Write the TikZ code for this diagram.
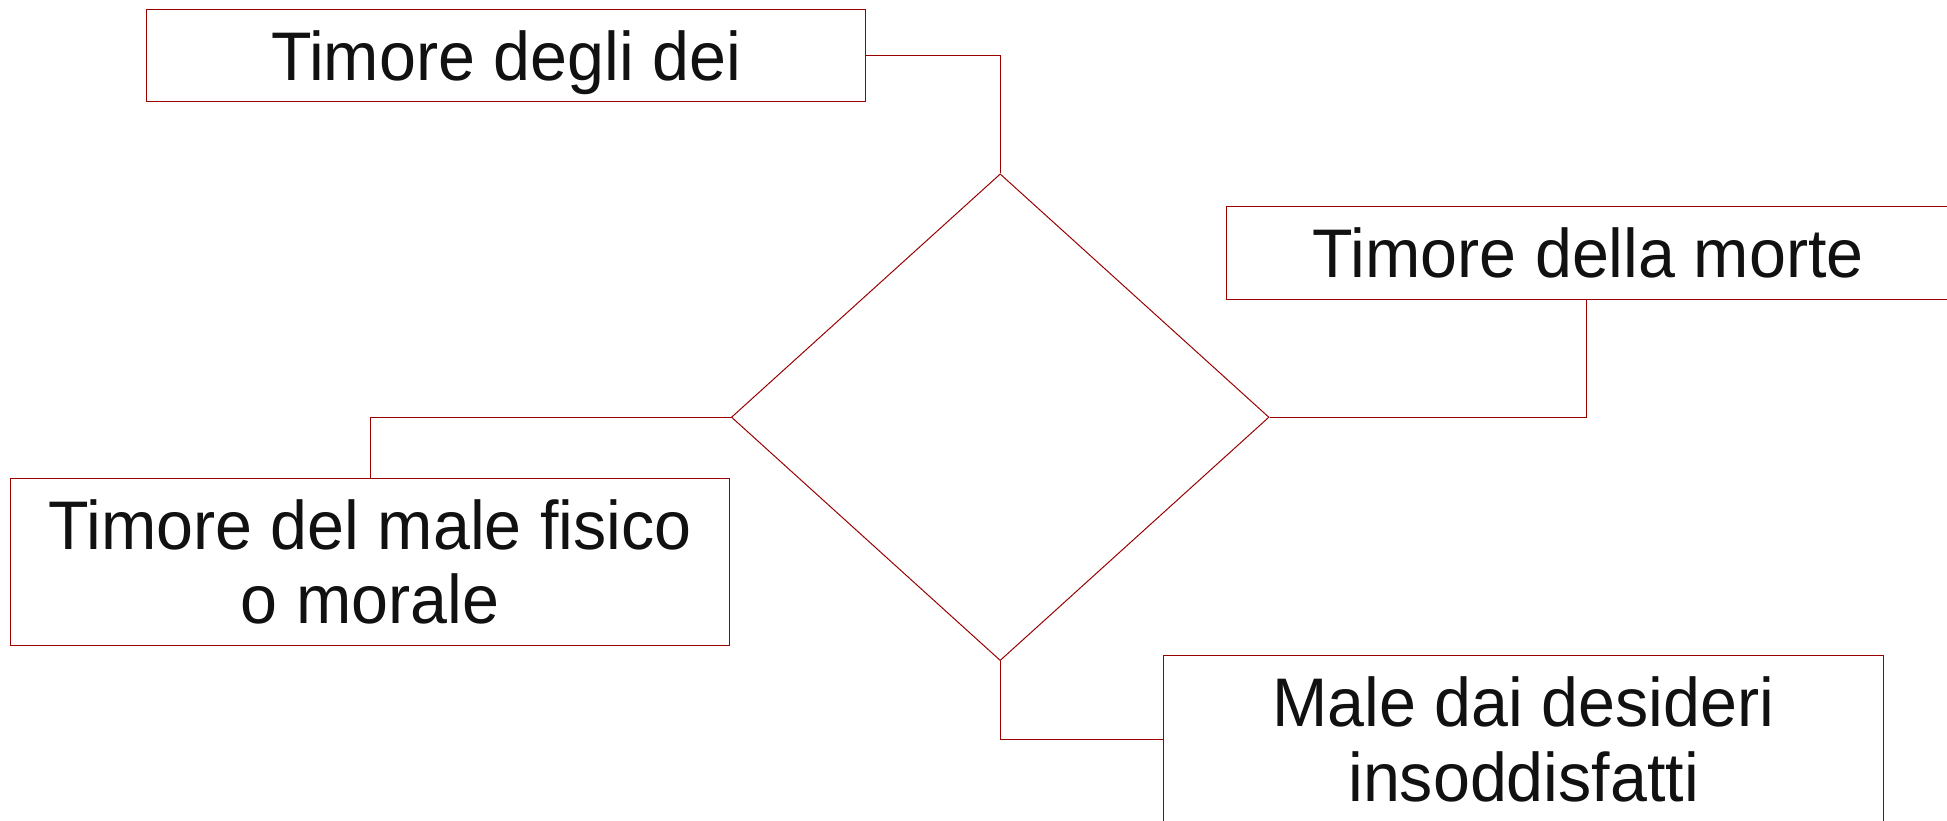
\documentclass[tikz,border=0pt]{standalone}
\usepackage{fontspec}
\setmainfont{Liberation Sans}[FakeStretch=0.965]
\usetikzlibrary{shapes.geometric}
\definecolor{lnred}{RGB}{153,0,0}
\definecolor{txt}{RGB}{17,17,17}
\begin{document}
\begin{tikzpicture}[x=1pt,y=-1pt,
  line width=0.8pt,
  box/.style={draw=lnred,rectangle,inner sep=0pt,minimum width=579.5pt,
    align=center,text=txt,font=\fontsize{55.4}{60}\selectfont},
  conn/.style={draw=lnred,line width=0.8pt}]
\useasboundingbox (0,0) rectangle (1568,661);
\clip (0,0) rectangle (1568,661);
\node[box,minimum height=74pt,text depth=0pt] (b1) at (407.5,45) {Timore degli dei};
\node[box,minimum height=75pt,minimum width=582pt] (b2) at (1279,203.5) {Timore della morte};
\node[box,minimum height=135pt] (b3) at (298,452.5) {Timore del male fisico\\o morale};
\node[box,minimum height=135pt] (b4) at (1227,595.5) {Male dai desideri\\insoddisfatti};
\node[draw=lnred,diamond,inner sep=0pt,minimum width=433pt,minimum height=392pt] (dia) at (805.5,336) {};
\draw[conn] (b1.east) -| (dia.north);
\draw[conn] (b2.south -| 1278,0) |- (dia.east);
\draw[conn] (dia.west) -| (b3.north);
\draw[conn] (dia.south) |- (b4.west);
\end{tikzpicture}
\end{document}
